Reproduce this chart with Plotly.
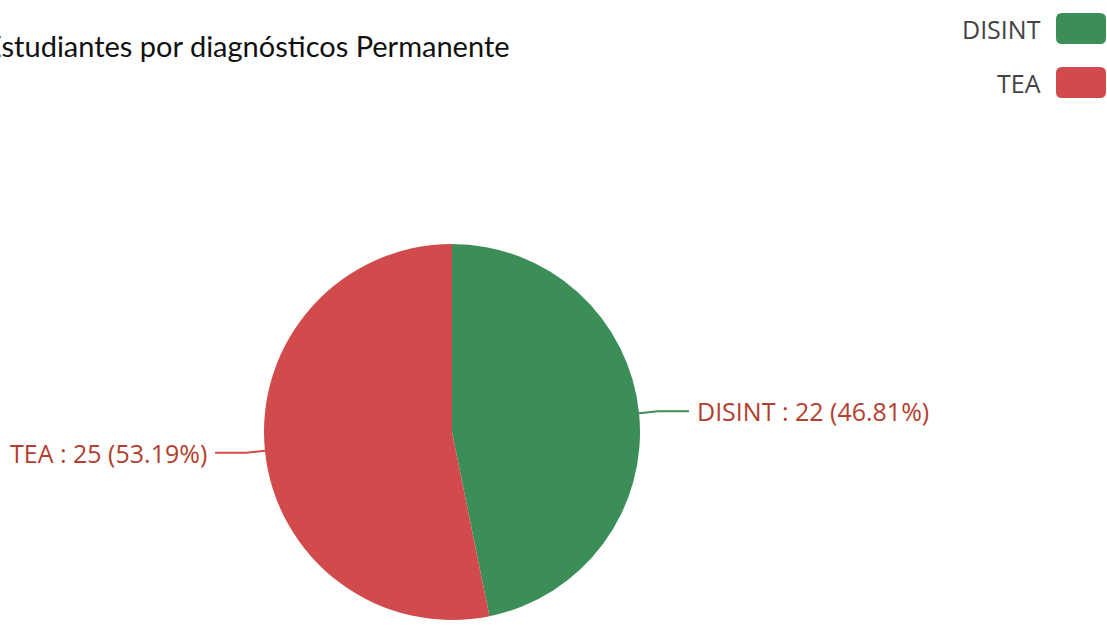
import math
import plotly.graph_objects as go

# datos
diagnosticos = ["DISINT", "TEA"]
cantidades = [22, 25]
colores = ["#3c8e58", "#d14b4c"]
titulo = "Estudiantes por diagnósticos Permanente"

W, H = 1107, 625
cx, cy, r = 452, 432, 188   # centro y radio del pie en pixeles

total = sum(cantidades)
porcentajes = [round(v / total * 100, 2) for v in cantidades]

fig = go.Figure()

fig.add_trace(go.Pie(
    labels=diagnosticos,
    values=cantidades,
    marker=dict(colors=colores, line=dict(width=0)),
    sort=False,
    direction="clockwise",
    rotation=0,
    textinfo="none",
    hovertemplate="%{label}: %{value} (%{percent})<extra></extra>",
    showlegend=False,
    domain=dict(x=[(cx - r) / W, (cx + r) / W],
                y=[1 - (cy + r) / H, 1 - (cy - r) / H]),
))

shapes = []
annotations = []

# lineas guia y etiquetas, calculadas desde los angulos de cada tajada
acumulado = 0
for nombre, v, p, col in zip(diagnosticos, cantidades, porcentajes, colores):
    medio = (acumulado + v / 2) / total * 2 * math.pi
    acumulado += v
    dx, dy = math.sin(medio), -math.cos(medio)
    x0, y0 = cx + r * dx, cy + r * dy
    x1, y1 = cx + (r + 19) * dx, cy + (r + 19) * dy
    lado = 1 if dx >= 0 else -1
    x2 = x1 + lado * 31
    shapes.append(dict(type="path", xref="x", yref="y",
                       path=f"M {x0},{y0} L {x1},{y1} L {x2},{y1}",
                       line=dict(color=col, width=2)))
    annotations.append(dict(
        x=x2 + lado * 6, y=y1, xref="x", yref="y",
        text=f"{nombre} : {v} ({p:.2f}%)",
        showarrow=False,
        xanchor="left" if lado > 0 else "right", yanchor="middle",
        font=dict(family="Open Sans", size=25, color="#b3402f"),
    ))

# leyenda propia (caja de color a la derecha del texto)
for i, (nombre, col) in enumerate(zip(diagnosticos, colores)):
    ytop = 13 + i * 54
    x0, x1, y0, y1, rr = 1056, 1106, ytop, ytop + 31, 6
    shapes.append(dict(
        type="path", xref="x", yref="y",
        path=(f"M {x0+rr},{y0} L {x1-rr},{y0} Q {x1},{y0} {x1},{y0+rr} "
              f"L {x1},{y1-rr} Q {x1},{y1} {x1-rr},{y1} L {x0+rr},{y1} "
              f"Q {x0},{y1} {x0},{y1-rr} L {x0},{y0+rr} Q {x0},{y0} {x0+rr},{y0} Z"),
        fillcolor=col, line=dict(width=0)))
    annotations.append(dict(
        x=1043, y=ytop + 15.5, xref="x", yref="y",
        text=nombre, showarrow=False, xanchor="right", yanchor="middle",
        font=dict(family="Open Sans", size=25, color="#444444"),
    ))

# titulo (recortado a la izquierda como en la imagen)
annotations.append(dict(
    x=512, y=45, xref="x", yref="y", text=titulo, showarrow=False,
    xanchor="right", yanchor="middle",
    font=dict(family="Lato", size=29, color="#111111"),
))

fig.update_layout(
    width=W, height=H,
    margin=dict(l=0, r=0, t=0, b=0),
    paper_bgcolor="white", plot_bgcolor="white",
    xaxis=dict(range=[0, W], visible=False, fixedrange=True),
    yaxis=dict(range=[H, 0], visible=False, fixedrange=True),
    shapes=shapes,
    annotations=annotations,
    showlegend=False,
)

fig.write_html("out.html", config=dict(displayModeBar=False),
               post_script="document.body.style.margin='0';")
